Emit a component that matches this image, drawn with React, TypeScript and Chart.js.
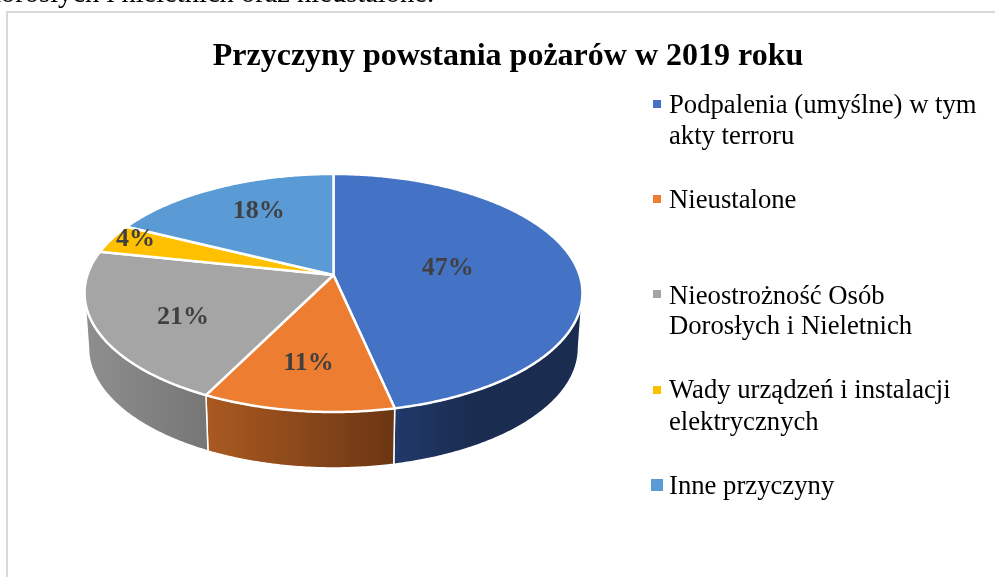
import React, { useEffect, useRef } from "react";
import { Chart, registerables } from "chart.js";

Chart.register(...registerables);

const categories = [
  "Podpalenia (umyślne) w tym akty terroru",
  "Nieustalone",
  "Nieostrożność Osób Dorosłych i Nieletnich",
  "Wady urządzeń i instalacji elektrycznych",
  "Inne przyczyny",
];
const legendLines = [
  ["Podpalenia (umyślne) w tym", "akty terroru"],
  ["Nieustalone"],
  ["Nieostrożność Osób", "Dorosłych i Nieletnich"],
  ["Wady urządzeń i instalacji", "elektrycznych"],
  ["Inne przyczyny"],
];
const shares = [46.6, 10.8, 20.9, 4.0, 17.7];
const topColors = ["#4472C4", "#ED7D31", "#A5A5A5", "#FFC000", "#5B9BD5"];
const chartTitle = "Przyczyny powstania pożarów w 2019 roku";
const clippedCaption = "dorosłych i nieletnich oraz nieustalone.";

const SERIF = "'Liberation Serif', serif";

// perspective of the pie plane
const APEX_X = 333.5;
const APEX_Y = 275;
const PERSP = 0.151;
const SCALE_X = 246.1;
const SCALE_Y = 116.3;
const ELLIPSE_CY = 293;
const WALL_DROP = 55;
const WALL_SX = 0.984;
const WALL_SY = 1.008;

// label placement within each slice: radial fraction and offsets
const labelRadius = [0.47, 0.67, 0.65, 0.8, 0.64];
const labelNudgeX = [0, -2, 0, -19, 2];
const labelNudgeY = [-1, 2, 8, -6, -5];

// legend layout: marker box and text baselines for each entry
const legendX = 669;
const legendBaselines = [
  [113, 144],
  [208],
  [304, 334],
  [398, 430],
  [494],
];
const legendMarkers = [
  { x: 653, y: 100, s: 8 },
  { x: 653, y: 195, s: 8 },
  { x: 653, y: 290, s: 8 },
  { x: 653, y: 386, s: 8 },
  { x: 651, y: 479, s: 12 },
];

const wallGradients: (null | { x0: number; x1: number; c0: string; c1: string })[] = [
  { x0: 393, x1: 470, c0: "#21396a", c1: "#1a2c50" },
  { x0: 206, x1: 393, c0: "#aa5a21", c1: "#6c3613" },
  { x0: 88, x1: 207, c0: "#8e8e8e", c1: "#767676" },
  null,
  null,
];

function project(angle: number, r = 1) {
  const u = Math.cos(angle) * r;
  const v = Math.sin(angle) * r;
  const w = 1 - PERSP * v;
  return { x: APEX_X + (SCALE_X * u) / w, y: APEX_Y + (SCALE_Y * v) / w };
}

function wallPoint(p: { x: number; y: number }) {
  return {
    x: APEX_X + (p.x - APEX_X) * WALL_SX,
    y: ELLIPSE_CY + WALL_DROP + (p.y - ELLIPSE_CY) * WALL_SY,
  };
}

function rim(a0: number, a1: number) {
  const n = Math.max(2, Math.ceil(Math.abs(a1 - a0) / 0.01));
  const pts = [];
  for (let i = 0; i <= n; i++) pts.push(project(a0 + ((a1 - a0) * i) / n));
  return pts;
}

const pie3d = {
  id: "pie3d",
  beforeDraw(chart: any) {
    const { ctx, width, height } = chart;
    ctx.save();
    ctx.fillStyle = "#ffffff";
    ctx.fillRect(0, 0, width, height);
    ctx.fillStyle = "#000000";
    ctx.font = `28.5px ${SERIF}`;
    ctx.textAlign = "right";
    ctx.textBaseline = "alphabetic";
    ctx.fillText(clippedCaption, 434, 2);
    ctx.fillStyle = "#d9d9d9";
    ctx.fillRect(6, 11, width - 6, 2);
    ctx.fillRect(6, 11, 2, height - 11);
    ctx.restore();
  },
  beforeDatasetsDraw(chart: any) {
    const { ctx } = chart;
    const arcs = chart.getDatasetMeta(0).data;
    const frontStart = Math.asin(PERSP);
    const frontEnd = Math.PI - frontStart;
    ctx.save();
    ctx.lineJoin = "round";

    arcs.forEach((arc: any, i: number) => {
      const g = wallGradients[i];
      if (!g) return;
      const { startAngle, endAngle } = arc.getProps(["startAngle", "endAngle"], true);
      const a0 = Math.max(startAngle, frontStart);
      const a1 = Math.min(endAngle, frontEnd);
      if (a1 <= a0) return;
      const top = rim(a0, a1);
      const bottom = top.map(wallPoint).reverse();
      ctx.beginPath();
      [...top, ...bottom].forEach((p, k) => (k ? ctx.lineTo(p.x, p.y) : ctx.moveTo(p.x, p.y)));
      ctx.closePath();
      const grad = ctx.createLinearGradient(g.x0, 0, g.x1, 0);
      grad.addColorStop(0, g.c0);
      grad.addColorStop(1, g.c1);
      ctx.fillStyle = grad;
      ctx.fill();
      ctx.strokeStyle = "#ffffff";
      ctx.lineWidth = 1.5;
      ctx.stroke();
    });

    arcs.forEach((arc: any, i: number) => {
      const { startAngle, endAngle } = arc.getProps(["startAngle", "endAngle"], true);
      ctx.beginPath();
      ctx.moveTo(APEX_X, APEX_Y);
      rim(startAngle, endAngle).forEach((p) => ctx.lineTo(p.x, p.y));
      ctx.closePath();
      ctx.fillStyle = chart.data.datasets[0].backgroundColor[i];
      ctx.fill();
      ctx.strokeStyle = "#ffffff";
      ctx.lineWidth = 2.5;
      ctx.stroke();
    });

    ctx.font = `bold 26px ${SERIF}`;
    ctx.fillStyle = "#404040";
    ctx.textAlign = "center";
    ctx.textBaseline = "middle";
    arcs.forEach((arc: any, i: number) => {
      const { startAngle, endAngle } = arc.getProps(["startAngle", "endAngle"], true);
      const p = project((startAngle + endAngle) / 2, labelRadius[i]);
      ctx.fillText(
        `${Math.round(chart.data.datasets[0].data[i])}%`,
        p.x + labelNudgeX[i],
        p.y + labelNudgeY[i],
      );
    });
    ctx.restore();
    return false;
  },
  afterDraw(chart: any) {
    const { ctx } = chart;
    ctx.save();
    ctx.textAlign = "left";
    ctx.textBaseline = "alphabetic";
    ctx.font = `26.7px ${SERIF}`;
    legendLines.forEach((lines, i) => {
      const m = legendMarkers[i];
      ctx.fillStyle = chart.data.datasets[0].backgroundColor[i];
      ctx.fillRect(m.x, m.y, m.s, m.s);
      ctx.fillStyle = "#000000";
      lines.forEach((t, k) => ctx.fillText(t, legendX, legendBaselines[i][k]));
    });
    ctx.restore();
  },
};

export default function App() {
  const ref = useRef<HTMLCanvasElement>(null);
  useEffect(() => {
    document.body.style.margin = "0";
    const chart = new Chart(ref.current as HTMLCanvasElement, {
      type: "pie",
      data: {
        labels: categories,
        datasets: [{ data: shares, backgroundColor: topColors, borderColor: "#ffffff", borderWidth: 2 }],
      },
      options: {
        responsive: false,
        animation: false,
        layout: { padding: { left: 21 } },
        plugins: {
          legend: { display: false },
          tooltip: { enabled: false },
          title: {
            display: true,
            text: chartTitle,
            color: "#000000",
            font: { family: SERIF, size: 32, weight: "bold", lineHeight: 1.2 },
            padding: { top: 38, bottom: 0 },
          },
        },
      },
      plugins: [pie3d],
    } as any);
    return () => chart.destroy();
  }, []);
  return (
    <div style={{ position: "fixed", left: 0, top: 0, width: 995, height: 577, overflow: "hidden" }}>
      <canvas ref={ref} width={995} height={577} style={{ display: "block" }} />
    </div>
  );
}
